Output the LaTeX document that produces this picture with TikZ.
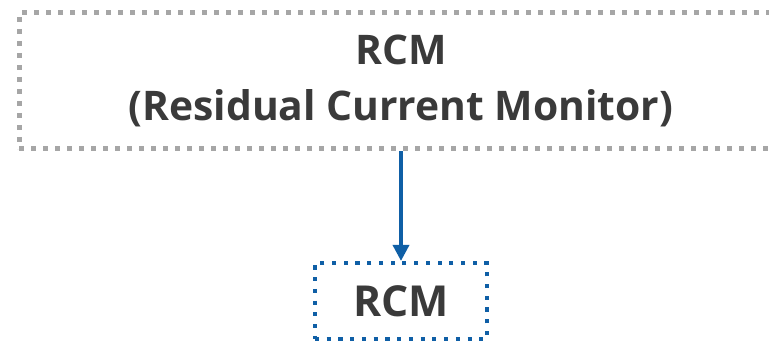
\documentclass[tikz,border=0pt]{standalone}
\usepackage{fontspec}
\setmainfont{Open Sans}
\usetikzlibrary{arrows.meta}
\definecolor{boxgray}{HTML}{A6A6A6}
\definecolor{rcmblue}{HTML}{0F5FA6}
\definecolor{inkgray}{HTML}{3A3A3A}
\tikzset{
  px/.style={x=0.75pt,y=-0.75pt},
  dotbox/.style={rectangle, inner sep=0pt, text=inkgray, align=center,
    font=\bfseries\fontsize{30.6}{42}\selectfont},
  graydots/.style={draw=boxgray, line width=3.75pt, dash pattern=on 3.75pt off 5.25pt},
  bluedots/.style={draw=rcmblue, line width=3.1pt, dash pattern=on 3.1pt off 5.7pt},
  link/.style={rcmblue, line width=2.7pt, -{Triangle[length=12pt,width=12pt]}}
}
\begin{document}
\begin{tikzpicture}[px]
  \useasboundingbox (0,0) rectangle (769,342);
  % outer monitor box, running past the right edge
  \node[dotbox, graydots, minimum width=573pt, minimum height=102pt]
    (monitor) at (401,81) {RCM\\(Residual Current Monitor)};
  % small RCM box
  \node[dotbox, bluedots, font=\bfseries\fontsize{32}{40}\selectfont,
    minimum width=129pt, minimum height=57pt]
    (rcm) at (401,301) {RCM};
  \draw[link] (monitor.south) -- (rcm.north);
\end{tikzpicture}
\end{document}
